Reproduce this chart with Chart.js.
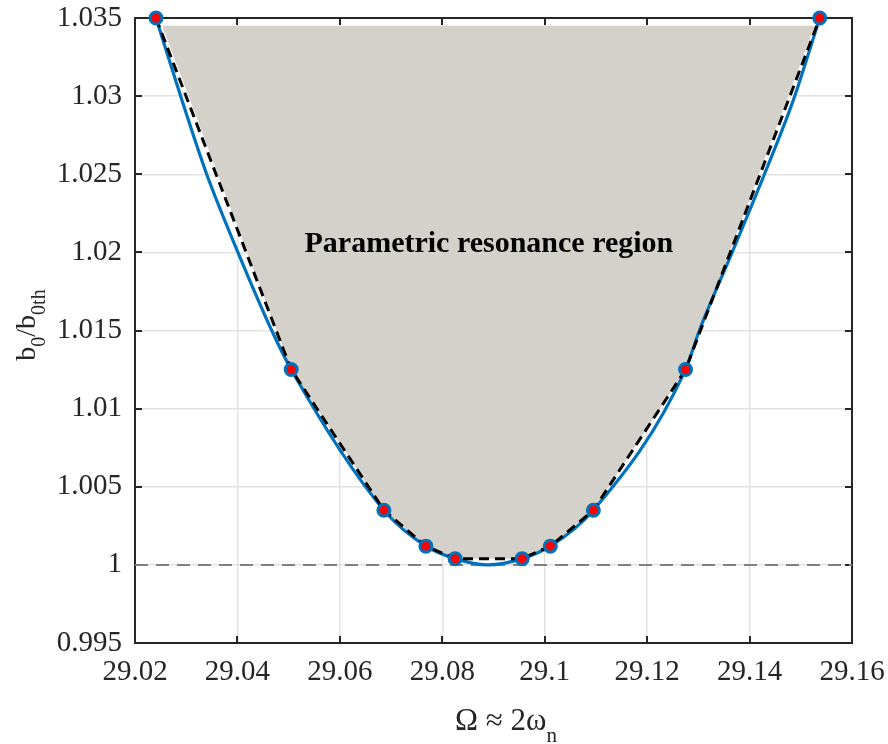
<!DOCTYPE html>
<html>
<head>
<meta charset="utf-8">
<script src="https://cdn.jsdelivr.net/npm/chart.js@4.4.1/dist/chart.umd.min.js"></script>
<style>
  html, body { margin: 0; padding: 0; background: #fff; }
  #wrap { width: 888px; height: 744px; }
</style>
</head>
<body>
<div id="wrap"><canvas id="chart" width="888" height="744"></canvas></div>
<script>
// --- data ---
const markerX = [29.0241, 29.0505, 29.0686, 29.0768, 29.0825, 29.0956, 29.1011, 29.1095, 29.1275, 29.1537];
const markerY = [1.035, 1.0125, 1.0035, 1.0012, 1.0004, 1.0004, 1.0012, 1.0035, 1.0125, 1.035];

const curveX = [29.0241, 29.0292, 29.0340, 29.0401, 29.0467, 29.0505, 29.0686, 29.0768, 29.0825, 29.0889, 29.0956, 29.1011, 29.1095, 29.1275, 29.1302, 29.1366, 29.1429, 29.1485, 29.1537];
const curveY = [1.035, 1.0297, 1.025, 1.020, 1.015, 1.0125, 1.0035, 1.0012, 1.0004, 1.0000, 1.0004, 1.0012, 1.0035, 1.0125, 1.015, 1.020, 1.025, 1.0297, 1.035];

const regionX = [29.0253, 29.0505, 29.0686, 29.0768, 29.0825, 29.0956, 29.1011, 29.1095, 29.1275, 29.1527];
const regionY = [1.0345, 1.0125, 1.0035, 1.0012, 1.0004, 1.0004, 1.0012, 1.0035, 1.0125, 1.0345];
const regionTop = 1.0345;

const refX = [29.02, 29.16];
const refY = [1, 1];

const xTicks = [29.02, 29.04, 29.06, 29.08, 29.1, 29.12, 29.14, 29.16];
const xTickLabels = ['29.02', '29.04', '29.06', '29.08', '29.1', '29.12', '29.14', '29.16'];
const yTicks = [0.995, 1, 1.005, 1.01, 1.015, 1.02, 1.025, 1.03, 1.035];
const yTickLabels = ['0.995', '1', '1.005', '1.01', '1.015', '1.02', '1.025', '1.03', '1.035'];

const regionText = 'Parametric resonance region';
const regionTextAt = { x: 29.0891, y: 1.0200 };

const SERIF = '"Liberation Serif", "Times New Roman", serif';
const pts = (xs, ys) => xs.map((x, i) => ({ x, y: ys[i] }));

// frame + inward ticks (MATLAB style box)
const boxPlugin = {
  id: 'box',
  beforeDatasetsDraw(chart) {
    const { ctx, chartArea: a, scales } = chart;
    ctx.save();
    ctx.strokeStyle = '#262626';
    ctx.lineWidth = 2;
    ctx.beginPath();
    const tl = 7;
    xTicks.forEach(v => {
      const px = Math.round(scales.x.getPixelForValue(v));
      ctx.moveTo(px, a.bottom); ctx.lineTo(px, a.bottom - tl);
      ctx.moveTo(px, a.top); ctx.lineTo(px, a.top + tl);
    });
    yTicks.forEach(v => {
      const py = Math.round(scales.y.getPixelForValue(v));
      ctx.moveTo(a.left, py); ctx.lineTo(a.left + tl, py);
      ctx.moveTo(a.right, py); ctx.lineTo(a.right - tl, py);
    });
    ctx.stroke();
    ctx.strokeRect(a.left, a.top, a.right - a.left, a.bottom - a.top);
    ctx.restore();
  }
};

// axis titles with subscripts + region label
const textPlugin = {
  id: 'texts',
  afterDraw(chart) {
    const { ctx, scales } = chart;
    ctx.save();
    ctx.fillStyle = '#262626';
    ctx.textBaseline = 'alphabetic';

    // x title: Ω ≈ 2ω_n
    drawParts(ctx, [['\u03A9 \u2248 2\u03C9', '31px ' + SERIF, 0], ['n', '21px ' + SERIF, 12]], 506, 730);

    // y title: b_0/b_0th rotated
    ctx.save();
    ctx.translate(35, 325);
    ctx.rotate(-Math.PI / 2);
    drawParts(ctx, [['b', '28px ' + SERIF, 0], ['0', '20px ' + SERIF, 10], ['/b', '28px ' + SERIF, 0], ['0th', '20px ' + SERIF, 10]], 0, 0);
    ctx.restore();

    // region label
    ctx.font = 'bold 30px ' + SERIF;
    ctx.fillStyle = '#000';
    ctx.textAlign = 'center';
    ctx.fillText(regionText, scales.x.getPixelForValue(regionTextAt.x), scales.y.getPixelForValue(regionTextAt.y));
    ctx.restore();
  }
};

function drawParts(ctx, parts, cx, baseY) {
  let w = 0;
  parts.forEach(p => { ctx.font = p[1]; w += ctx.measureText(p[0]).width; });
  let x = cx - w / 2;
  ctx.textAlign = 'left';
  parts.forEach(p => {
    ctx.font = p[1];
    ctx.fillText(p[0], x, baseY + p[2]);
    x += ctx.measureText(p[0]).width;
  });
}

const ctx = document.getElementById('chart').getContext('2d');
new Chart(ctx, {
  type: 'scatter',
  data: {
    datasets: [
      { // markers
        data: pts(markerX, markerY), showLine: false, order: 0, clip: false,
        pointRadius: 6, pointBorderWidth: 3, pointBackgroundColor: '#ff0000', pointBorderColor: '#0072bd'
      },
      { // dashed polyline through the markers
        data: pts(markerX, markerY), showLine: true, order: 1, pointRadius: 0,
        borderColor: '#000', borderWidth: 3, borderDash: [10, 6], tension: 0, fill: false
      },
      { // smooth boundary
        data: pts(curveX, curveY), showLine: true, order: 2, pointRadius: 0, clip: false,
        borderColor: '#0072bd', borderWidth: 3.2, cubicInterpolationMode: 'monotone', fill: false
      },
      { // b0/b0th = 1 reference
        data: pts(refX, refY), showLine: true, order: 3, pointRadius: 0,
        borderColor: '#808080', borderWidth: 2, borderDash: [13, 8], fill: false
      },
      { // shaded region
        data: pts(regionX, regionY), showLine: true, order: 4, pointRadius: 0,
        borderWidth: 0, borderColor: 'rgba(0,0,0,0)', backgroundColor: '#d4d0ca',
        tension: 0, fill: { value: regionTop }
      }
    ]
  },
  options: {
    responsive: false,
    animation: false,
    devicePixelRatio: 1,
    layout: { padding: { top: 18, right: 36, left: 0, bottom: 0 } },
    plugins: { legend: { display: false }, tooltip: { enabled: false } },
    scales: {
      x: {
        type: 'linear', min: 29.02, max: 29.16,
        afterBuildTicks: s => { s.ticks = xTicks.map(v => ({ value: v })); },
        afterFit: s => { s.height = 101; s.paddingLeft = 0; s.paddingRight = 0; },
        ticks: {
          padding: 12, color: '#262626', font: { family: SERIF, size: 29 },
          maxRotation: 0, autoSkip: false,
          callback: (v) => xTickLabels[xTicks.findIndex(t => Math.abs(t - v) < 1e-9)]
        },
        grid: { color: '#e2e2e2', lineWidth: 1.5, drawTicks: false },
        border: { display: false }
      },
      y: {
        type: 'linear', min: 0.995, max: 1.035,
        afterBuildTicks: s => { s.ticks = yTicks.map(v => ({ value: v })); },
        afterFit: s => { s.width = 135; s.paddingTop = 0; s.paddingBottom = 0; },
        ticks: {
          padding: 13, color: '#262626', font: { family: SERIF, size: 29 }, autoSkip: false,
          callback: (v) => yTickLabels[yTicks.findIndex(t => Math.abs(t - v) < 1e-9)]
        },
        grid: { color: '#e2e2e2', lineWidth: 1.5, drawTicks: false },
        border: { display: false }
      }
    }
  },
  plugins: [boxPlugin, textPlugin]
});
</script>
</body>
</html>
